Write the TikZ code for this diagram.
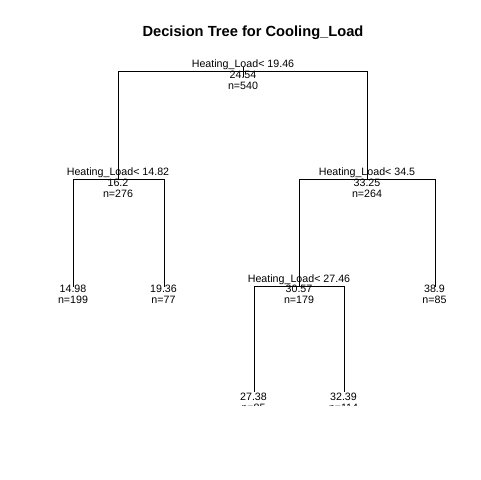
\documentclass[tikz,border=0pt]{standalone}
\usepackage{fontspec}
\setmainfont{Liberation Sans}
\usetikzlibrary{positioning}
\tikzset{
  edge/.style    = {line width=0.9pt},
  lab/.style     = {font=\fontsize{8}{9}\selectfont, inner sep=0pt, anchor=base},
  headline/.style= {font=\fontsize{11}{12}\selectfont\bfseries, inner sep=0pt, anchor=base},
}

\begin{document}
\begin{tikzpicture}[x=0.75pt,y=-0.75pt]
 \useasboundingbox (0,0) rectangle (480,480);
 \node[headline] (title) at (253,36.5) {Decision Tree for Cooling\_Load};
 % split points and leaves
 \coordinate (root) at (243.5,71.5);
 \coordinate (roottop) at (243.5,67);
 \coordinate (rootbot) at (243.5,77);
 \coordinate (n2) at (118.5,179.5);
 \coordinate (n3) at (367.5,179.5);
 \coordinate (n4) at (73.5,286.5);
 \coordinate (n5) at (164.5,286.5);
 \coordinate (n6) at (299.5,286.5);
 \coordinate (n7) at (435.5,286.5);
 \coordinate (n12) at (254.5,392);
 \coordinate (n13) at (344.5,392);
 \begin{scope}
   \clip (0,0) rectangle (480,405);
   \draw[edge] (roottop) -- (rootbot);
   \draw[edge] (n2) |- (root) -| (n3);
   \draw[edge] (n4) |- (n2) -| (n5);
   \draw[edge] (n6) |- (n3) -| (n7);
   \draw[edge] (n12) |- (n6) -| (n13);
   % root
   \node[lab] (split1) at (243,67.7) {Heating\_Load< 19.46};
   \node[lab] (mean1) at (243,78) {24.54};
   \node[lab] (cnt1) at (243,89) {n=540};
   % left
   \node[lab] (split2) at (118,175) {Heating\_Load< 14.82};
   \node[lab] (mean2) at (118,186) {16.2};
   \node[lab] (cnt2) at (118,197) {n=276};
   \node[lab] (mean4) at (73,292) {14.98};
   \node[lab] (cnt4) at (73,303.3) {n=199};
   \node[lab] (mean5) at (163.5,292) {19.36};
   \node[lab] (cnt5) at (163.5,303.3) {n=77};
   % right
   \node[lab] (split3) at (367,175) {Heating\_Load< 34.5};
   \node[lab] (mean3) at (367,186) {33.25};
   \node[lab] (cnt3) at (367,197) {n=264};
   \node[lab] (split6) at (299,282.7) {Heating\_Load< 27.46};
   \node[lab] (mean6) at (299,292) {30.57};
   \node[lab] (cnt6) at (299,303.3) {n=179};
   \node[lab] (mean7) at (434.5,292) {38.9};
   \node[lab] (cnt7) at (434.5,303.3) {n=85};
   \node[lab] (mean12) at (253.5,400) {27.38};
   \node[lab] (cnt12) at (253.5,411) {n=85};
   \node[lab] (mean13) at (343.5,400) {32.39};
   \node[lab] (cnt13) at (343.5,411) {n=114};
 \end{scope}
\end{tikzpicture}
\end{document}
